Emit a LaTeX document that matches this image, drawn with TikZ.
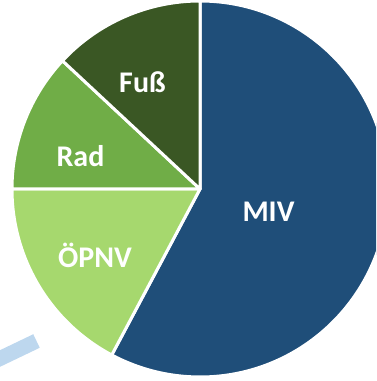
\documentclass[tikz,border=0pt]{standalone}
\usepackage{fontspec}
\setmainfont{Carlito}
\usepackage{xcolor}
\definecolor{mivblue}{HTML}{1F4E79}
\definecolor{fussgreen}{HTML}{3A5724}
\definecolor{radgreen}{HTML}{70AD47}
\definecolor{oepnvgreen}{HTML}{A6D86E}
\definecolor{barblue}{HTML}{BDD7EE}

\tikzset{
  slice/.style={draw=white,line width=3pt,line join=round},
  label/.style={text=white,anchor=base,font=\bfseries\fontsize{30}{36}\selectfont}
}

\begin{document}
\begin{tikzpicture}[x=1pt,y=1pt]

    \clip (0,0) rectangle (376,381);

    \coordinate (Ce) at (200,192);
    \coordinate (BaA) at (-10,17.7);
    \coordinate (BaB) at (36.5,40);

    \draw[barblue,line width=15pt] (BaA) -- (BaB);

    \filldraw[slice,fill=mivblue] (Ce) -- ++(90:188) arc (90:-118:188) -- cycle;
    \filldraw[slice,fill=oepnvgreen] (Ce) -- ++(242:188) arc (242:180:188) -- cycle;
    \filldraw[slice,fill=radgreen] (Ce) -- ++(180:188) arc (180:137:188) -- cycle;
    \filldraw[slice,fill=fussgreen] (Ce) -- ++(137:188) arc (137:90:188) -- cycle;

    \node[label] (MIV) at (268.5,159) {MIV};
    \node[label] (OePNV) at (95,113) {ÖPNV};
    \node[label] (Rad) at (80.5,214) {Rad};
    \node[label] (Fuss) at (142.5,288) {Fuß};

\end{tikzpicture}
\end{document}
